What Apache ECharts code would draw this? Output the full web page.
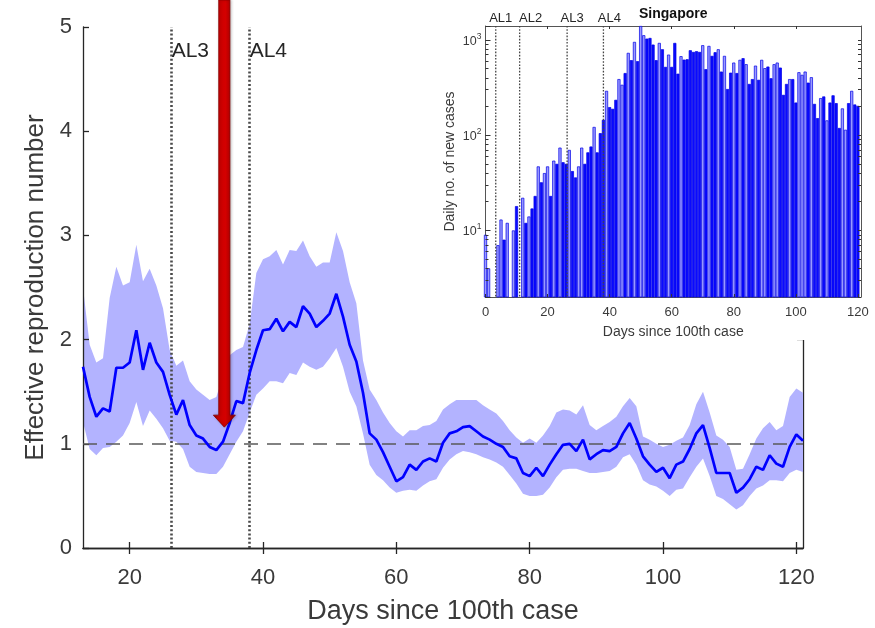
<!DOCTYPE html>
<html><head><meta charset="utf-8">
<script src="https://cdn.jsdelivr.net/npm/echarts@6/dist/echarts.min.js"></script>
<style>html,body{margin:0;padding:0;background:#fff}#c{width:875px;height:628px}</style>
</head><body><div id="c"></div>
<script>
// ---------- Main chart data: effective reproduction number, days 13..121 ----------
const rStartDay = 13;
const rMean = [
  1.74,1.45,1.26,1.34,1.31,1.73,1.73,1.78,2.09,1.71,
  1.97,1.78,1.69,1.47,1.28,1.42,1.18,1.08,1.05,0.97,
  0.94,1.02,1.20,1.41,1.39,1.68,1.90,2.09,2.10,2.20,
  2.08,2.17,2.12,2.32,2.25,2.12,2.18,2.25,2.44,2.22,
  1.95,1.79,1.49,1.10,1.04,0.92,0.78,0.64,0.68,0.80,
  0.75,0.83,0.86,0.83,1.01,1.10,1.12,1.16,1.17,1.12,
  1.07,1.04,1.00,0.97,0.88,0.86,0.72,0.69,0.77,0.69,
  0.80,0.90,0.99,1.00,0.93,1.04,0.85,0.90,0.94,0.93,
  0.97,1.10,1.20,1.05,0.88,0.80,0.73,0.77,0.67,0.80,
  0.83,0.95,1.10,1.18,0.96,0.72,0.72,0.72,0.53,0.58,
  0.66,0.78,0.75,0.89,0.81,0.78,0.97,1.09,1.03
];
const rUpper = [
  2.50,1.95,1.78,1.82,2.40,2.70,2.52,2.55,2.91,2.56,
  2.68,2.52,2.30,1.90,1.75,1.80,1.60,1.52,1.47,1.42,
  1.45,1.65,1.85,1.90,1.93,2.15,2.64,2.77,2.80,2.86,
  2.72,2.86,2.85,2.95,2.80,2.70,2.74,2.74,3.03,2.85,
  2.55,2.35,1.80,1.52,1.42,1.30,1.20,1.12,1.07,1.13,
  1.13,1.17,1.18,1.22,1.33,1.38,1.42,1.42,1.42,1.42,
  1.37,1.33,1.29,1.22,1.13,1.06,1.01,1.05,1.01,1.08,
  1.17,1.30,1.33,1.32,1.28,1.37,1.18,1.13,1.17,1.21,
  1.26,1.36,1.44,1.36,1.07,1.04,1.00,0.97,0.99,1.03,
  1.06,1.18,1.38,1.50,1.30,1.08,1.04,0.97,0.75,0.76,
  0.90,1.05,1.15,1.21,1.13,1.17,1.45,1.53,1.49
];
const rLower = [
  1.21,0.95,0.89,0.96,0.97,1.02,1.08,1.20,1.40,1.17,
  1.32,1.24,1.15,1.03,1.02,0.95,0.78,0.73,0.72,0.71,
  0.71,0.78,0.90,1.02,1.12,1.30,1.47,1.53,1.60,1.60,
  1.58,1.68,1.66,1.78,1.74,1.71,1.74,1.82,1.92,1.74,
  1.50,1.36,1.10,0.80,0.70,0.65,0.58,0.53,0.55,0.56,
  0.55,0.60,0.64,0.66,0.77,0.85,0.90,0.93,0.92,0.90,
  0.87,0.85,0.82,0.78,0.70,0.62,0.52,0.50,0.50,0.51,
  0.58,0.68,0.75,0.76,0.76,0.74,0.72,0.72,0.73,0.74,
  0.78,0.87,0.90,0.80,0.65,0.61,0.59,0.55,0.50,0.56,
  0.57,0.68,0.78,0.86,0.69,0.50,0.47,0.42,0.37,0.41,
  0.50,0.57,0.60,0.65,0.65,0.64,0.72,0.75,0.73
];
const mainXTicks = [20, 40, 60, 80, 100, 120];
const thresholdR = 1;
const mainAlertNames = ['AL3', 'AL4'];
const mainAlertDays = [26.3, 38];
const arrowDay = 34.2;
const arrowTipR = 1.16;

// ---------- Inset data: daily new cases, Singapore, days 0..120 ----------
const caseStartDay = 0;
const dailyCases = [
  9,4,null,null,7,13,8,12,null,10,
  18,null,22,12,14,17,23,47,32,40,
  47,23,54,50,74,52,50,70,42,36,
  47,74,50,66,76,122,66,105,145,292,
  197,189,235,388,338,449,731,613,953,598,
  1400,1120,1032,1049,893,613,930,798,521,701,
  521,930,442,675,621,627,779,748,761,748,
  880,493,865,680,743,798,465,680,305,453,
  578,449,618,643,556,345,388,537,381,618,
  505,525,396,556,578,512,265,345,388,388,
  220,458,430,465,356,406,213,151,245,255,
  143,220,262,217,119,191,114,217,292,210,
  203
];
const insetAlertNames = ['AL1', 'AL2', 'AL3', 'AL4'];
const insetAlertDays = [3.3, 11, 26.3, 38];
const insetXTicks = [0, 20, 40, 60, 80, 100, 120];
// styling only: label nudges (px) and days whose bars are drawn in the lighter shade
const insetAlertLabelDx = [5, 11, 5, 6];
const lightBarDays = [0,1,4,5,7,9,12,14,17,19,20,22,24,27,30,31,35,39,43,44,46,48,50,51,56,59,63,70,72,75,77,80,82,84,87,89,90,93,94,98,101,102,103,105,108,110,115,116,118];

// ---------- build ----------
const FONT = 'Liberation Sans, Arial, Helvetica, sans-serif';
const AX = '#262626';
const TXT = '#3a3a3a';
const meanPts = rMean.map((v, i) => [rStartDay + i, v]);
const barPts = [];
dailyCases.forEach((v, i) => { if (v != null) barPts.push([caseStartDay + i, v]); });
const lightSet = new Set(lightBarDays);

const logMin = 2, logMax = 1400;
const minorTickVals = [];
[1, 10, 100, 1000].forEach(b => { for (let k = 1; k <= 9; k++) { const v = k * b; if (v >= logMin && v <= logMax) minorTickVals.push(Math.log10(v)); } });

const chart = echarts.init(document.getElementById('c'), null, { renderer: 'canvas' });

const option = {
  animation: false,
  backgroundColor: '#fff',
  textStyle: { fontFamily: FONT },
  grid: [
    { left: 83, right: 72, top: 27, bottom: 80, outerBoundsMode: 'none', containLabel: false },
    { left: 485.5, right: 14, top: 26, bottom: 331, outerBoundsMode: 'none', containLabel: false }
  ],
  xAxis: [
    { type: 'value', gridIndex: 0, min: 13, max: 121, position: 'bottom', z: 3,
      axisLine: { lineStyle: { color: AX, width: 1.3 } },
      axisTick: { inside: true, length: 6, customValues: mainXTicks, lineStyle: { color: AX, width: 1.3 } },
      axisLabel: { customValues: mainXTicks, fontSize: 22, color: TXT, margin: 19, fontFamily: FONT },
      splitLine: { show: false },
      name: 'Days since 100th case', nameLocation: 'middle', nameGap: 50,
      nameTextStyle: { fontSize: 27, color: TXT, fontFamily: FONT } },
    { type: 'value', gridIndex: 0, min: 13, max: 121, position: 'top',
      axisLine: { show: true, lineStyle: { color: AX, width: 1.3 } },
      axisTick: { inside: true, length: 6, customValues: mainXTicks, lineStyle: { color: AX, width: 1.3 } },
      axisLabel: { show: false }, splitLine: { show: false } },
    { type: 'value', gridIndex: 1, min: 0, max: 121, position: 'bottom', z: 20,
      axisLine: { lineStyle: { color: '#555', width: 1 } },
      axisTick: { inside: true, length: 3, customValues: insetXTicks, lineStyle: { color: '#333', width: 1 } },
      axisLabel: { customValues: insetXTicks, fontSize: 13, color: TXT, margin: 9, fontFamily: FONT },
      splitLine: { show: false },
      name: 'Days since 100th case', nameLocation: 'middle', nameGap: 28,
      nameTextStyle: { fontSize: 14, color: TXT, fontFamily: FONT } },
    { type: 'value', gridIndex: 1, min: 0, max: 121, position: 'top', z: 20,
      axisLine: { show: true, lineStyle: { color: '#555', width: 1 } },
      axisTick: { inside: true, length: 3, customValues: insetXTicks.slice(1, 6), lineStyle: { color: '#333', width: 1 } },
      axisLabel: { show: false }, splitLine: { show: false },
      name: 'Singapore', nameLocation: 'middle', nameGap: 5,
      nameTextStyle: { fontSize: 14, fontWeight: 'bold', color: '#111', fontFamily: FONT } }
  ],
  yAxis: [
    { type: 'value', gridIndex: 0, min: 0, max: 5, interval: 1, position: 'left', z: 3,
      axisLine: { show: true, lineStyle: { color: AX, width: 1.3 } },
      axisTick: { show: true, inside: true, length: 6, lineStyle: { color: AX, width: 1.3 } },
      axisLabel: { fontSize: 22, color: TXT, margin: 11, fontFamily: FONT },
      splitLine: { show: false },
      name: 'Effective reproduction number', nameLocation: 'middle', nameGap: 34,
      nameTextStyle: { fontSize: 26, color: TXT, fontFamily: FONT } },
    { type: 'value', gridIndex: 0, min: 0, max: 5, interval: 1, position: 'right',
      axisLine: { show: true, lineStyle: { color: AX, width: 1.3 } },
      axisTick: { show: true, inside: true, length: 6, lineStyle: { color: AX, width: 1.3 } },
      axisLabel: { show: false }, splitLine: { show: false } },
    { type: 'log', logBase: 10, gridIndex: 1, min: logMin, max: logMax, position: 'left', z: 20,
      axisLine: { show: true, lineStyle: { color: '#555', width: 1 } },
      axisTick: { show: true, inside: true, length: 5, lineStyle: { color: '#333', width: 1 } },
      axisLabel: { margin: 4, color: TXT, fontFamily: FONT,
        formatter: function (v) {
          const l = Math.log10(v), e = Math.round(l);
          return Math.abs(l - e) < 1e-6 ? '{b|10}{s|' + e + '}' : '';
        },
        rich: { b: { fontSize: 12.5, lineHeight: 16, verticalAlign: 'bottom', color: TXT, fontFamily: FONT },
                s: { fontSize: 8.5, lineHeight: 9, verticalAlign: 'top', color: TXT, fontFamily: FONT } } },
      splitLine: { show: false },
      name: 'Daily no. of new cases', nameLocation: 'middle', nameGap: 28,
      nameTextStyle: { fontSize: 14, color: TXT, fontFamily: FONT } },
    { type: 'value', gridIndex: 1, min: Math.log10(logMin), max: Math.log10(logMax), position: 'left', z: 20,
      axisLine: { show: false },
      axisTick: { show: true, inside: true, length: 3, customValues: minorTickVals, lineStyle: { color: '#333', width: 1 } },
      axisLabel: { show: false }, splitLine: { show: false } },
    { type: 'value', gridIndex: 1, min: Math.log10(logMin), max: Math.log10(logMax), position: 'right', z: 20,
      axisLine: { show: true, lineStyle: { color: '#555', width: 1 } },
      axisTick: { show: true, inside: true, length: 3, customValues: minorTickVals, lineStyle: { color: '#333', width: 1 } },
      axisLabel: { show: false }, splitLine: { show: false } }
  ],
  series: [
    { name: 'band', type: 'custom', xAxisIndex: 0, yAxisIndex: 0, silent: true, z: 2,
      data: [[rStartDay, rMean[0]]],
      renderItem: function (params, api) {
        const pts = [];
        for (let i = 0; i < rUpper.length; i++) pts.push(api.coord([rStartDay + i, rUpper[i]]));
        for (let i = rLower.length - 1; i >= 0; i--) pts.push(api.coord([rStartDay + i, rLower[i]]));
        return { type: 'polygon', shape: { points: pts }, style: { fill: '#b3b3ff' } };
      } },
    { name: 'R', type: 'line', xAxisIndex: 0, yAxisIndex: 0, data: meanPts, symbol: 'none',
      lineStyle: { color: '#0000ff', width: 2.7 }, z: 5,
      markLine: { silent: true, symbol: ['none', 'none'], animation: false, label: { show: false },
        data: [
          { yAxis: thresholdR, lineStyle: { color: '#5a5a5a', type: [14, 9], width: 1.5 } }
        ].concat(mainAlertDays.map(d => ({ xAxis: d, lineStyle: { color: '#4a4a4a', type: [2, 2.2], width: 2.6 } })))
      },
      markPoint: { silent: true, symbol: 'circle', symbolSize: 0, animation: false,
        data: mainAlertNames.map((n, i) => ({ coord: [mainAlertDays[i], 4.77], value: n,
          label: { show: true, position: 'right', distance: 0, formatter: n, fontSize: 21, color: '#262626', fontFamily: FONT } })) }
    },
    { name: 'cases', type: 'bar', xAxisIndex: 2, yAxisIndex: 2, data: barPts, barWidth: 3.1, z: 20,
      itemStyle: {
        color: function (p) { return lightSet.has(p.data[0]) ? '#9a9aff' : '#0a0aff'; },
        borderColor: '#0000e6', borderWidth: 0.7
      } },
    { name: 'alerts', type: 'custom', xAxisIndex: 2, yAxisIndex: 3, z: 22, silent: true, clip: false,
      data: insetAlertDays.map(d => [d, Math.log10(logMin)]),
      renderItem: function (params, api) {
        const x = api.value(0);
        const top = api.coord([x, Math.log10(logMax)]);
        const bot = api.coord([x, Math.log10(logMin)]);
        return { type: 'group', children: [
          { type: 'line', shape: { x1: top[0], y1: top[1], x2: bot[0], y2: bot[1] },
            style: { stroke: '#444', lineWidth: 1.3, lineDash: [1.6, 1.6] } },
          { type: 'text', style: { text: insetAlertNames[params.dataIndex],
            x: top[0] + insetAlertLabelDx[params.dataIndex], y: top[1] - 1,
            align: 'center', verticalAlign: 'bottom', fontSize: 13, fill: '#262626', fontFamily: FONT } }
        ] };
      } }
  ],
  graphic: [
    { id: 'insetBg', type: 'rect', z: 10, silent: true,
      shape: { x: 431, y: 0, width: 444, height: 340 }, style: { fill: '#ffffff' } }
  ]
};
chart.setOption(option);

// red arrow annotation positioned from data coordinates
const tip = chart.convertToPixel({ xAxisIndex: 0, yAxisIndex: 0 }, [arrowDay, arrowTipR]);
const cx = tip[0], ty = tip[1];
const sw = 5.6, hw = 11, hh = 12;
chart.setOption({
  graphic: [
    { id: 'arrow', type: 'polygon', z: 50, silent: true,
      shape: { points: [[cx - sw, 0], [cx + sw, 0], [cx + sw, ty - hh], [cx + hw, ty - hh], [cx, ty], [cx - hw, ty - hh], [cx - sw, ty - hh]] },
      style: {
        fill: new echarts.graphic.LinearGradient(0, 0, 1, 0, [
          { offset: 0, color: '#7a0000' }, { offset: 0.2, color: '#c80000' },
          { offset: 0.55, color: '#d40000' }, { offset: 1, color: '#8a0000' }
        ]),
        stroke: '#8a0000', lineWidth: 0.8,
        shadowColor: 'rgba(0,0,0,0.25)', shadowBlur: 3, shadowOffsetX: 1
      } }
  ]
});
</script>
</body></html>
